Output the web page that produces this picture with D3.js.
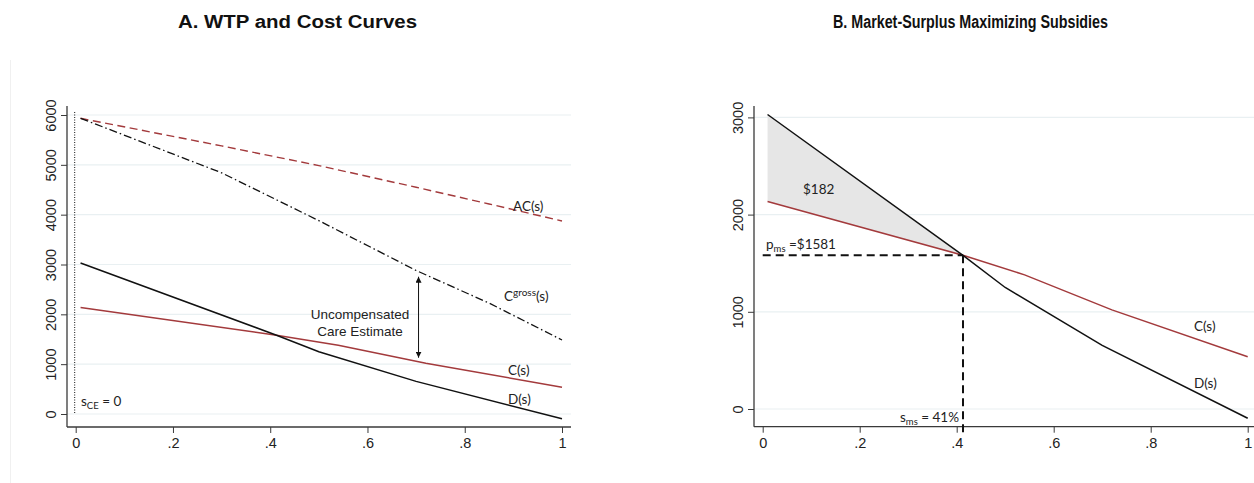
<!DOCTYPE html>
<html>
<head>
<meta charset="utf-8">
<script src="https://cdn.jsdelivr.net/npm/d3@7"></script>
<style>
  html, body { margin: 0; padding: 0; background: #fff; }
  svg { display: block; }
  .lbl { font-family: Lato, "Open Sans", sans-serif; font-size: 13.5px; fill: #222; }
</style>
</head>
<body>
<script>
// ── Data ─────────────────────────────────────────────────────────
const yTicksA = [0, 1000, 2000, 3000, 4000, 5000, 6000];
const yTicksB = [0, 1000, 2000, 3000];
const xTicks = [0, 0.2, 0.4, 0.6, 0.8, 1];
const xTickLabels = ['0', '.2', '.4', '.6', '.8', '1'];

// D(s): willingness to pay
const dShare = [0.01, 0.413, 0.5, 0.7, 1.0];
const dValue = [3030, 1581, 1250, 655, -95];
// C(s): net cost
const cShare = [0.01, 0.413, 0.54, 0.72, 1.0];
const cValue = [2135, 1581, 1380, 1020, 538];
// C^gross(s)
const gShare = [0.01, 0.3, 0.5, 0.7, 0.85, 1.0];
const gValue = [5934, 4840, 3880, 2880, 2226, 1485];
// AC(s)
const acShare = [0.01, 0.3, 0.5, 0.7, 0.85, 1.0];
const acValue = [5934, 5380, 4985, 4550, 4215, 3873];

// uncompensated care arrow
const arrowShare = 0.705;
const arrowTop = 2755;
const arrowBottom = 1130;

// market surplus maximizing point
const msShare = 0.413;
const msPrice = 1581;
const sceShare = 0;

const RED = '#a33a3c';
const GRID = '#e9f0f2';
const AXIS = '#3a3a3a';
const TICK_FONT = '"Liberation Sans", Arial, sans-serif';

const zip = (xs, ys) => xs.map((x, i) => ({ x, y: ys[i] }));
const interp = (xs, ys, s) => {
  for (let i = 0; i < xs.length - 1; i++) {
    if (s >= xs[i] && s <= xs[i + 1]) {
      const t = (s - xs[i]) / (xs[i + 1] - xs[i]);
      return ys[i] + t * (ys[i + 1] - ys[i]);
    }
  }
  return ys[ys.length - 1];
};

const svg = d3.select('body').append('svg').attr('width', 1254).attr('height', 483);

// defs: arrow heads
const defs = svg.append('defs');
defs.append('marker')
  .attr('id', 'arr')
  .attr('viewBox', '0 0 10 10')
  .attr('refX', 10).attr('refY', 5)
  .attr('markerWidth', 6).attr('markerHeight', 6)
  .attr('markerUnits', 'userSpaceOnUse')
  .attr('orient', 'auto-start-reverse')
  .append('path').attr('d', 'M0,0 L10,5 L0,10 z').attr('fill', '#111');

// faint panel edge on the left
svg.append('line').attr('x1', 10.5).attr('x2', 10.5).attr('y1', 60).attr('y2', 483)
  .attr('stroke', '#f0f0f0').attr('stroke-width', 1);

// ── Titles ───────────────────────────────────────────────────────
function title(cx, txt, len) {
  svg.append('text')
    .attr('x', cx).attr('y', 28)
    .attr('text-anchor', 'middle')
    .style('font-family', TICK_FONT)
    .style('font-weight', 'bold')
    .style('font-size', '18px')
    .attr('textLength', len)
    .attr('lengthAdjust', 'spacingAndGlyphs')
    .attr('fill', '#111')
    .text(txt);
}
title(297.5, 'A. WTP and Cost Curves', 239);
title(970.5, 'B. Market-Surplus Maximizing Subsidies', 275);

// ── Panel frame helper ──────────────────────────────────────────
function panel(opt) {
  const { x, y, axisX, axisY, left, right, top, yTicks } = opt;
  const g = svg.append('g');

  // gridlines
  g.selectAll('.grid').data(yTicks).enter().append('line')
    .attr('x1', left).attr('x2', right)
    .attr('y1', d => y(d)).attr('y2', d => y(d))
    .attr('stroke', GRID).attr('stroke-width', 1.2);

  // y axis
  const ya = g.append('g').attr('transform', `translate(${axisX},0)`)
    .call(d3.axisLeft(y).tickValues(yTicks).tickSize(6).tickFormat(d3.format('d')));
  ya.select('.domain').remove();
  ya.selectAll('.tick line').attr('stroke', AXIS);
  ya.selectAll('.tick text')
    .style('font-family', TICK_FONT).style('font-size', '14.5px').attr('fill', '#222')
    .attr('x', 0).attr('y', -11.5).attr('dy', 0)
    .attr('text-anchor', 'middle')
    .attr('transform', 'rotate(-90)');
  g.append('line').attr('x1', axisX).attr('x2', axisX).attr('y1', top).attr('y2', axisY)
    .attr('stroke', AXIS).attr('stroke-width', 1.3);

  // x axis
  const xa = g.append('g').attr('transform', `translate(0,${axisY})`)
    .call(d3.axisBottom(x).tickValues(xTicks).tickSize(6).tickFormat((d, i) => xTickLabels[i]));
  xa.select('.domain').remove();
  xa.selectAll('.tick line').attr('stroke', AXIS);
  xa.selectAll('.tick text')
    .style('font-family', TICK_FONT).style('font-size', '14.5px').attr('fill', '#222')
    .attr('y', 21).attr('dy', 0);
  g.append('line').attr('x1', axisX).attr('x2', right).attr('y1', axisY).attr('y2', axisY)
    .attr('stroke', AXIS).attr('stroke-width', 1.3);
  return g;
}

function curve(g, x, y, xs, ys, color, dash, width) {
  const line = d3.line().x(d => x(d.x)).y(d => y(d.y));
  g.append('path').datum(zip(xs, ys))
    .attr('d', line)
    .attr('fill', 'none')
    .attr('stroke', color)
    .attr('stroke-width', width || 1.5)
    .attr('stroke-dasharray', dash || null);
}

function label(g, px, py, main, sub, rest, sup) {
  const t = g.append('text').attr('class', 'lbl').attr('x', px).attr('y', py);
  t.append('tspan').text(main);
  if (sub) t.append('tspan').attr('dy', 2.5).style('font-size', '9.5px').text(sub);
  if (sup) t.append('tspan').attr('dy', -5).style('font-size', '10px').text(sup);
  if (rest) t.append('tspan').attr('dy', sub ? -2.5 : (sup ? 5 : 0)).text(rest);
  return t;
}

// ── Panel A ──────────────────────────────────────────────────────
{
  const x = d3.scaleLinear().domain([0, 1]).range([75.7, 562]);
  const y = d3.scaleLinear().domain([0, 6000]).range([414, 115]);
  const g = panel({ x, y, axisX: 67, axisY: 427, left: 67, right: 571, top: 106, yTicks: yTicksA });

  // s_CE = 0 marker
  g.append('line')
    .attr('x1', x(sceShare) - 1).attr('x2', x(sceShare) - 1)
    .attr('y1', y(6060)).attr('y2', y(0))
    .attr('stroke', '#111').attr('stroke-width', 1).attr('stroke-dasharray', '1,1.5');

  curve(g, x, y, acShare, acValue, RED, '8,4.5', 1.4);
  curve(g, x, y, gShare, gValue, '#111', '8,3,1.5,3', 1.3);
  curve(g, x, y, cShare, cValue, RED, null, 1.5);
  curve(g, x, y, dShare, dValue, '#111', null, 1.5);

  // uncompensated care arrow
  g.append('line')
    .attr('x1', x(arrowShare)).attr('x2', x(arrowShare))
    .attr('y1', y(arrowBottom)).attr('y2', y(arrowTop))
    .attr('stroke', '#111').attr('stroke-width', 1)
    .attr('marker-start', 'url(#arr)')
    .attr('marker-end', 'url(#arr)');

  const ut = g.append('text')
    .style('font-family', TICK_FONT)
    .style('font-size', '13.5px').attr('fill', '#222')
    .attr('text-anchor', 'middle');
  ut.append('tspan').attr('x', 360).attr('y', 319).text('Uncompensated');
  ut.append('tspan').attr('x', 360).attr('y', 336).text('Care Estimate');

  label(g, 513, 211, 'AC(s)');
  label(g, 504, 301, 'C', null, '(s)', 'gross');
  label(g, 508, 375, 'C(s)');
  label(g, 508, 404, 'D(s)');
  label(g, 81, 406, 's', 'CE', ' = 0');
}

// ── Panel B ──────────────────────────────────────────────────────
{
  const x = d3.scaleLinear().domain([0, 1]).range([762.7, 1247.7]);
  const y = d3.scaleLinear().domain([0, 3000]).range([409, 117.4]);
  const g = panel({ x, y, axisX: 754, axisY: 426.7, left: 754, right: 1254, top: 106, yTicks: yTicksB });

  // shaded surplus area between D and C up to s_ms
  const shadeS = [dShare[0], msShare];
  const area = d3.area()
    .x(d => x(d))
    .y0(d => y(interp(cShare, cValue, d)))
    .y1(d => y(interp(dShare, dValue, d)));
  g.append('path').datum(shadeS).attr('d', area).attr('fill', '#e6e6e6');

  curve(g, x, y, cShare, cValue, RED, null, 1.5);
  curve(g, x, y, dShare, dValue, '#111', null, 1.5);

  // dashed guides at the market-surplus maximizing point
  g.append('line')
    .attr('x1', x(0)).attr('x2', x(msShare))
    .attr('y1', y(msPrice)).attr('y2', y(msPrice))
    .attr('stroke', '#111').attr('stroke-width', 2).attr('stroke-dasharray', '8,5');
  g.append('line')
    .attr('x1', x(msShare)).attr('x2', x(msShare))
    .attr('y1', y(msPrice)).attr('y2', y(-245))
    .attr('stroke', '#111').attr('stroke-width', 2).attr('stroke-dasharray', '8,5');

  label(g, 803, 194, '$182');
  label(g, 766, 249, 'p', 'ms', ' =$' + msPrice);
  label(g, 900, 422, 's', 'ms', ' = ' + Math.round(msShare * 100) + '%');
  label(g, 1194, 331, 'C(s)');
  label(g, 1194, 388, 'D(s)');
}
</script>
</body>
</html>
